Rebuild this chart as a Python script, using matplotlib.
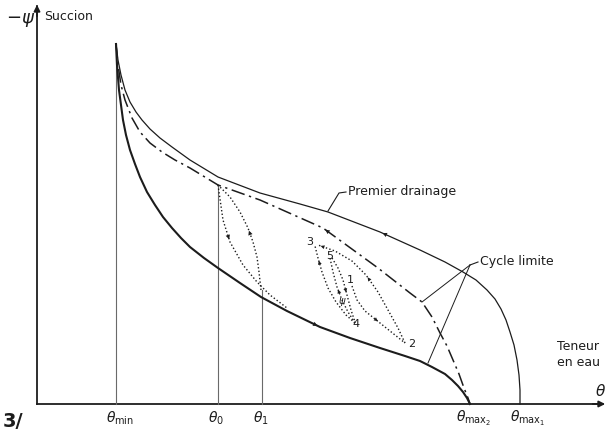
import matplotlib
matplotlib.use('Agg')
import matplotlib.pyplot as plt

# all curves, in (theta, suction) units where the
# axes cross at (37, 0); suction = 404 - picture row
def pts(rows):
    return [p[0] for p in rows], [404 - p[1] for p in rows]

premier_drainage = [(116, 44), (118, 60), (121, 75), (125, 90), (130, 102), (136, 112),
                    (142, 120), (150, 129), (160, 138), (172, 147), (190, 160), (218, 177),
                    (260, 193), (300, 204), (328, 212), (380, 232), (420, 250), (445, 262),
                    (463, 272), (476, 280), (487, 290), (495, 299), (501, 309), (506, 320),
                    (510, 332), (514, 345), (517, 360), (519, 375), (520, 390), (520, 404)]
cycle_drying = [(116, 44), (118, 65), (121, 85), (125, 100), (132, 118), (140, 132),
                (150, 143), (162, 152), (175, 160), (190, 168), (218, 185), (260, 200),
                (323, 228), (378, 268), (410, 293), (422, 302), (432, 317), (440, 333),
                (447, 346), (453, 360), (459, 374), (464, 388), (468, 398), (470, 404)]
cycle_wetting = [(116, 44), (117, 65), (119, 90), (121, 105), (123, 120), (126, 135),
                 (130, 150), (135, 164), (140, 177), (147, 192), (155, 205), (163, 217),
                 (172, 228), (181, 238), (190, 247), (204, 258), (218, 268), (240, 283),
                 (261, 297), (287, 311), (320, 327), (350, 338), (380, 348), (405, 356),
                 (420, 361), (432, 367), (445, 374), (452, 380), (458, 386), (463, 392),
                 (467, 398), (470, 404)]

# scanning curves (dotted)
scan_a_down = [(218, 185), (223, 220), (230, 242), (243, 265), (257, 282), (270, 295), (287, 308)]
scan_a_up = [(261, 290), (259, 272), (257, 257), (253, 242), (248, 228), (240, 212), (230, 197), (218, 185)]
scan_2_3 = [(405, 343), (398, 328), (388, 310), (378, 292), (366, 275), (352, 261), (335, 251), (318, 245)]
scan_1_2 = [(352, 286), (357, 300), (365, 311), (380, 323), (395, 335), (405, 343)]
scan_4_3 = [(355, 323), (346, 315), (336, 302), (328, 288), (322, 272), (318, 258), (315, 246)]
scan_4_5 = [(355, 323), (348, 312), (342, 300), (337, 287), (333, 272), (330, 258)]
scan_5_4 = [(332, 258), (338, 268), (343, 280), (347, 295), (351, 310), (355, 322)]

theta_ticks = [120, 216, 261, 474, 528]
theta_labels = [r'$\theta_{\rm min}$', r'$\theta_0$', r'$\theta_1$',
                r'$\theta_{{\rm max}_2}$', r'$\theta_{{\rm max}_1}$']
# vertical construction lines: x, bottom, top (picture rows)
verticals = [(116, 404, 44), (218, 404, 185), (262, 404, 290)]

ink = '#1c1c1c'
fig = plt.figure(figsize=(6.1, 4.32), dpi=100)
ax = fig.add_axes([0, 0, 1, 1])
ax.set_xlim(0, 610)
ax.set_ylim(-28, 404)
ax.axis('off')

# axes with arrows
ax.plot([37, 37], [0, 398], color=ink, lw=1.3)
ax.plot([37, 602], [0, 0], color=ink, lw=1.3)
ax.annotate('', xy=(37, 402), xytext=(37, 385),
            arrowprops=dict(arrowstyle='-|>', color=ink, lw=1.3, mutation_scale=9))
ax.annotate('', xy=(608, 0), xytext=(590, 0),
            arrowprops=dict(arrowstyle='-|>', color=ink, lw=1.3, mutation_scale=9))

for x, b, t in verticals:
    ax.plot([x, x], [404 - b, 404 - t], color='#6a6a6a', lw=0.8)

x, y = pts(premier_drainage)
ax.plot(x, y, color=ink, lw=0.9)
x, y = pts(cycle_drying)
ax.plot(x, y, color=ink, lw=1.1, dashes=(9, 3, 1.5, 3))
x, y = pts(cycle_wetting)
ax.plot(x, y, color=ink, lw=1.5)

for c in [scan_a_down, scan_a_up, scan_2_3, scan_1_2, scan_4_3, scan_4_5, scan_5_4]:
    x, y = pts(c)
    ax.plot(x, y, color=ink, lw=1.0, ls=(0, (1, 1.6)))


def head(curve, i, size=8):
    x, y = pts(curve)
    ax.annotate('', xy=(x[i + 1], y[i + 1]), xytext=(x[i], y[i]),
                arrowprops=dict(arrowstyle='-|>', color=ink, lw=0, mutation_scale=size))


head(premier_drainage[::-1], 13)
head(cycle_drying[::-1], 10)
head(cycle_wetting, 19)
head(scan_a_down, 1)
head(scan_a_up, 3)
head(scan_2_3, 3, 7)
head(scan_2_3, 6, 7)
head(scan_1_2, 2, 7)
head(scan_4_3, 4, 7)
head(scan_4_5, 2, 7)
head(scan_5_4, 2, 7)

# point numbers
ax.text(310, 404 - 242, '3', fontsize=8, ha='center', va='center', color=ink)
ax.text(330, 404 - 256, '5', fontsize=8, ha='center', va='center', color=ink)
ax.text(350, 404 - 280, '1', fontsize=8, ha='center', va='center', color=ink)
ax.text(356, 404 - 324, '4', fontsize=8, ha='center', va='center', color=ink)
ax.text(412, 404 - 344, '2', fontsize=8, ha='center', va='center', color=ink)
ax.text(342, 404 - 302, r'$\psi$', fontsize=7, ha='center', va='center', color=ink)

# labels with pointers
ax.plot([346, 339, 328], [404 - 192, 404 - 193, 404 - 211], color=ink, lw=0.8)
ax.text(348, 404 - 191, 'Premier drainage', fontsize=9, ha='left', va='center', color=ink)
ax.plot([478, 470], [404 - 262, 404 - 265], color=ink, lw=0.8)
ax.plot([470, 422], [404 - 265, 404 - 302], color=ink, lw=0.7)
ax.plot([470, 428], [404 - 265, 404 - 363], color=ink, lw=0.7)
ax.text(480, 404 - 262, 'Cycle limite', fontsize=9, ha='left', va='center', color=ink)
ax.text(557, 404 - 346, 'Teneur', fontsize=9, ha='left', va='center', color=ink)
ax.text(557, 404 - 362, 'en eau', fontsize=9, ha='left', va='center', color=ink)

ax.text(6, 404 - 20, r'$-\psi$', fontsize=13, ha='left', va='center', color=ink)
ax.text(44, 404 - 17, 'Succion', fontsize=9, ha='left', va='center', color=ink)
ax.text(601, 404 - 391, r'$\theta$', fontsize=11, ha='center', va='center', color=ink)

for t, lab in zip(theta_ticks, theta_labels):
    ax.text(t, 404 - 418, lab, fontsize=10, ha='center', va='center', color=ink)

ax.text(3, 404 - 431, '3/', fontsize=14, fontweight='bold', ha='left', va='bottom', color=ink)

fig.savefig('out.png', dpi=100)
